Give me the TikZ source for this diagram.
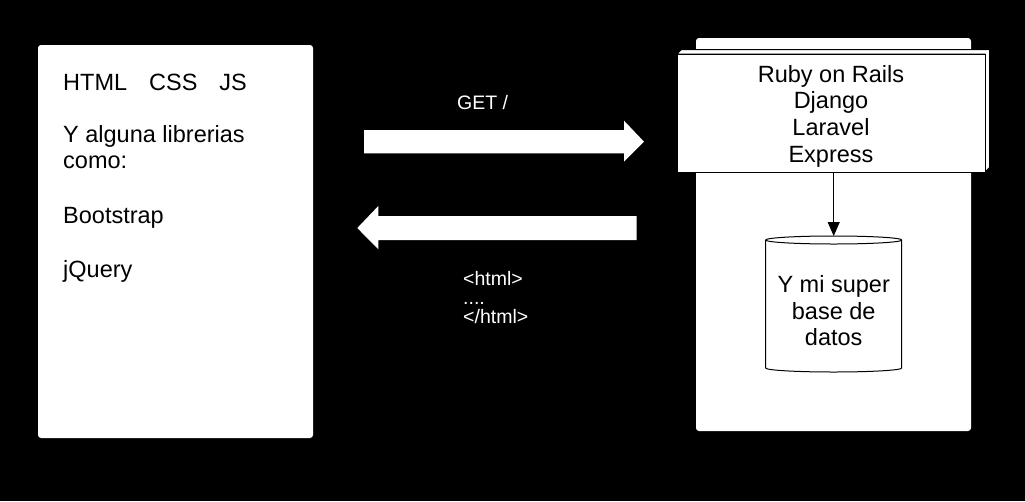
\documentclass[tikz,border=0pt]{standalone}
\usepackage{fontspec}
\setmainfont{Liberation Sans}
\usetikzlibrary{arrows.meta}
\begin{document}
\begin{tikzpicture}[x=1pt,y=-1pt,
  panel/.style={fill=white,rounded corners=3pt,inner sep=0pt,outer sep=0pt,anchor=north west},
  bigtxt/.style={font=\fontsize{23.5}{27}\selectfont,inner sep=0pt,anchor=base},
  bigtxtl/.style={font=\fontsize{23.5}{27}\selectfont,inner sep=0pt,anchor=base west},
  smalltxt/.style={font=\fontsize{19.5}{19}\selectfont,text=white,inner sep=0pt,anchor=base west},
  bigarrow/.style={fill=white}]
\fill[black] (0,0) rectangle (1025,501);
\useasboundingbox (0,0) rectangle (1025,501);
% panels
\node[panel,minimum width=275pt,minimum height=393pt] (client) at (38,45) {};
\node[panel,minimum width=275pt,minimum height=393pt] (server) at (696,38) {};
% client text
\node[bigtxtl] (t1) at (63,90) {HTML\hspace{22pt}CSS\hspace{22pt}JS};
\node[bigtxtl] (t2) at (63,142) {Y alguna librerias};
\node[bigtxtl] (t3) at (63,168) {como:};
\node[bigtxtl] (t4) at (63,223) {Bootstrap};
\node[bigtxtl] (t5) at (63,277) {jQuery};
% framework box (3D)
\draw[fill=white,line width=1pt] (677,54) -- (681.5,49.5) -- (989.5,49.5) -- (989.5,167.5) -- (985,172) -- (985,54) -- cycle;
\node[draw,fill=white,line width=1pt,minimum width=308pt,minimum height=118pt,inner sep=0pt,anchor=north west] (fw) at (677,54) {};
\node[bigtxt] (f1) at (831,82) {Ruby on Rails};
\node[bigtxt] (f2) at (831,108.5) {Django};
\node[bigtxt] (f3) at (831,135.5) {Laravel};
\node[bigtxt] (f4) at (831,162) {Express};
% database cylinder
\coordinate (dbtop) at (833.7,236);
\draw[fill=white,line width=1pt] (765.7,240) -- (765.7,368) arc[start angle=180,end angle=0,x radius=68,y radius=4] -- (901.7,240) arc[start angle=0,end angle=-180,x radius=68,y radius=4] -- cycle;
\draw[line width=1pt] (765.7,240) arc[start angle=180,end angle=0,x radius=68,y radius=4];
\node[bigtxt] (d1) at (833.7,292) {Y mi super};
\node[bigtxt] (d2) at (833.7,319) {base de};
\node[bigtxt] (d3) at (833.7,345.5) {datos};
\draw[line width=1pt,-{Triangle[length=14pt,width=12pt]}] (dbtop |- fw.south) -- (dbtop);
% request / response arrows
\fill[bigarrow] (364,130) -- (624,130) -- (624,120.7) -- (644,141.7) -- (624,161.7) -- (624,153.3) -- (364,153.3) -- cycle;
\fill[bigarrow] (636.7,216) -- (378.3,216) -- (378.3,206) -- (357.3,228) -- (378.3,249.3) -- (378.3,240) -- (636.7,240) -- cycle;
\node[smalltxt] (get) at (457,109) {GET /};
\node[smalltxt] (h1) at (463,285) {<html>};
\node[smalltxt] (h2) at (463,304) {....};
\node[smalltxt] (h3) at (463,323) {</html>};
\end{tikzpicture}
\end{document}
